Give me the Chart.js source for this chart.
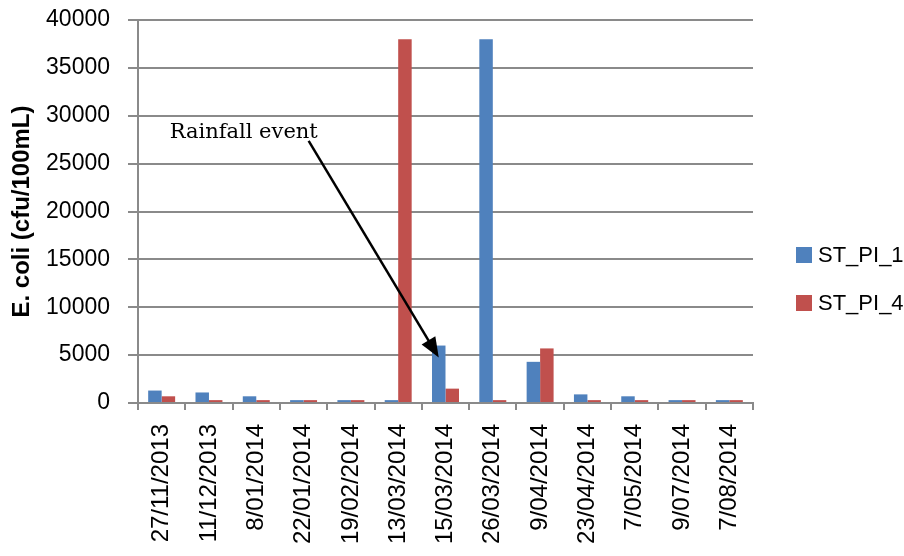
<!DOCTYPE html>
<html>
<head>
<meta charset="utf-8">
<script src="https://cdn.jsdelivr.net/npm/chart.js@4/dist/chart.umd.min.js"></script>
<style>
  html, body { margin: 0; padding: 0; background: #ffffff; }
  #wrap { width: 904px; height: 556px; }
</style>
</head>
<body>
<div id="wrap"><canvas id="c" width="904" height="556"></canvas></div>
<script>
// Sampling dates
const sampleDates = ['27/11/2013', '11/12/2013', '8/01/2014', '22/01/2014', '19/02/2014',
  '13/03/2014', '15/03/2014', '26/03/2014', '9/04/2014', '23/04/2014', '7/05/2014',
  '9/07/2014', '7/08/2014'];

// E. coli counts (cfu/100mL) per site
const stPi1 = [1300, 1100, 700, 300, 300, 300, 6000, 38000, 4300, 900, 700, 300, 300];
const stPi4 = [700, 300, 300, 300, 300, 38000, 1500, 300, 5700, 300, 300, 300, 300];

const seriesNames = ['ST_PI_1', 'ST_PI_4'];
const seriesColors = ['#4F81BD', '#C0504D'];

// Vertical axis ticks
const yTicks = [0, 5000, 10000, 15000, 20000, 25000, 30000, 35000, 40000];
const yTitle = 'E. coli (cfu/100mL)';

// Annotation: label pointing at the ST_PI_1 bar of the rain-affected sample
const noteText = 'Rainfall event';
const noteDateIndex = 6;
const noteSeriesIndex = 0;
const noteLabelValue = 27700;

const AXIS_GREY = '#8a8a8a';
const SANS = '"Liberation Sans", Arial, sans-serif';

// Legend drawn to the right of the plot, one square + name per series
const sideLegend = {
  id: 'sideLegend',
  afterDraw(chart) {
    const ctx = chart.ctx;
    const x0 = chart.width - 108;
    const rows = [255, 303];
    ctx.save();
    ctx.font = '22px ' + SANS;
    ctx.textBaseline = 'middle';
    ctx.textAlign = 'left';
    chart.data.datasets.forEach((ds, i) => {
      const cy = rows[i];
      ctx.fillStyle = ds.backgroundColor;
      ctx.fillRect(x0, cy - 8, 16, 16);
      ctx.fillStyle = '#000000';
      ctx.fillText(ds.label, x0 + 22, cy + 1);
    });
    ctx.restore();
  }
};

// Text note with an arrow ending on the referenced bar
const noteArrow = {
  id: 'noteArrow',
  afterDatasetsDraw(chart) {
    const ctx = chart.ctx;
    const xs = chart.scales.x;
    const ys = chart.scales.y;
    const bar = chart.getDatasetMeta(noteSeriesIndex).data[noteDateIndex];
    const tx = xs.getPixelForValue(0) + 8;
    const ty = ys.getPixelForValue(noteLabelValue);

    ctx.save();
    ctx.font = '21px "DejaVu Serif", "Liberation Serif", serif';
    ctx.fillStyle = '#000000';
    ctx.textBaseline = 'alphabetic';
    ctx.textAlign = 'left';
    ctx.fillText(noteText, tx, ty);

    const sx = tx + 139, sy = ty + 3;
    const ex = bar.x, ey = bar.y + 12;
    const dx = ex - sx, dy = ey - sy;
    const len = Math.hypot(dx, dy);
    const ux = dx / len, uy = dy / len;
    const headLen = 20, headHalf = 8;
    const bx = ex - ux * headLen, by = ey - uy * headLen;

    ctx.strokeStyle = '#000000';
    ctx.lineWidth = 2.5;
    ctx.beginPath();
    ctx.moveTo(sx, sy);
    ctx.lineTo(bx + ux * 2, by + uy * 2);
    ctx.stroke();

    ctx.fillStyle = '#000000';
    ctx.beginPath();
    ctx.moveTo(ex, ey);
    ctx.lineTo(bx - uy * headHalf, by + ux * headHalf);
    ctx.lineTo(bx + uy * headHalf, by - ux * headHalf);
    ctx.closePath();
    ctx.fill();
    ctx.restore();
  }
};

new Chart(document.getElementById('c'), {
  type: 'bar',
  data: {
    labels: sampleDates,
    datasets: [
      { label: seriesNames[0], data: stPi1, backgroundColor: seriesColors[0] },
      { label: seriesNames[1], data: stPi4, backgroundColor: seriesColors[1] }
    ]
  },
  options: {
    responsive: false,
    animation: false,
    devicePixelRatio: 1,
    layout: { padding: { left: 0, right: 151, top: 20, bottom: 0 } },
    datasets: { bar: { categoryPercentage: 0.57, barPercentage: 1.0, borderWidth: 0 } },
    plugins: {
      legend: { display: false },
      tooltip: { enabled: false }
    },
    scales: {
      x: {
        offset: true,
        grid: { display: true, drawOnChartArea: false, drawTicks: true, tickLength: 7,
                color: AXIS_GREY, lineWidth: 2, offset: true },
        border: { display: true, color: AXIS_GREY, width: 2 },
        ticks: { autoSkip: false, minRotation: 90, maxRotation: 90, padding: 14,
                 color: '#000000', font: { family: SANS, size: 24 } },
        afterFit(s) { s.height = 153; s.paddingLeft = 0; s.paddingRight = 0; }
      },
      y: {
        min: 0,
        max: 40000,
        afterBuildTicks(s) { s.ticks = yTicks.map(v => ({ value: v })); },
        grid: { display: true, drawOnChartArea: true, drawTicks: true, tickLength: 10,
                color: AXIS_GREY, lineWidth: 2 },
        border: { display: true, color: AXIS_GREY, width: 2 },
        ticks: { padding: 18, color: '#000000', font: { family: SANS, size: 23 },
                 callback: (v) => String(v) },
        title: { display: true, text: yTitle, color: '#000000', padding: { top: 8, bottom: 0 },
                 font: { family: SANS, size: 24, weight: 'bold' } },
        afterFit(s) { s.width = 138; s.paddingTop = 0; s.paddingBottom = 0; }
      }
    }
  },
  plugins: [noteArrow, sideLegend]
});
</script>
</body>
</html>
